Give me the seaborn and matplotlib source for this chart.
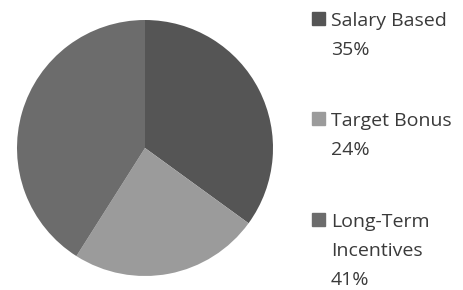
import seaborn as sns
import matplotlib.pyplot as plt
from matplotlib.patches import Rectangle

# chart data
labels = ["Salary Based", "Target Bonus", "Long-Term\nIncentives"]
shares = [35, 24, 41]
colors = ["#555555", "#9b9b9b", "#6c6c6c"]

sns.set_theme(style="white")
plt.rcParams["font.family"] = ["Open Sans", "DejaVu Sans"]

fig = plt.figure(figsize=(4.63, 2.90), dpi=100)
W, H = 463, 290

# pie area (pixel box of the circle)
ax = fig.add_axes([17 / W, 14 / H, 256 / W, 256 / H])
ax.pie(shares, colors=colors, startangle=90, counterclock=False,
       radius=1.0, wedgeprops=dict(linewidth=0, antialiased=True))
ax.set_xlim(-1.0, 1.0)
ax.set_ylim(-1.0, 1.0)
ax.set_aspect("equal")
ax.axis("off")

# legend drawn by hand: square marker + label lines + share
baselines = [26, 126, 227]
line_h = 29
for lab, val, col, base in zip(labels, shares, colors, baselines):
    lines = lab.split("\n") + [f"{val}%"]
    for i, line in enumerate(lines):
        fig.text(331 / W, 1 - (base + i * line_h) / H, line, fontsize=14,
                 color="#3a3a3a", va="baseline", ha="left")
    fig.patches.append(Rectangle((312 / W, 1 - (base - 1) / H), 13 / W, 13 / H,
                                 transform=fig.transFigure, color=col))

fig.savefig("out.png", dpi=100, facecolor="white")
